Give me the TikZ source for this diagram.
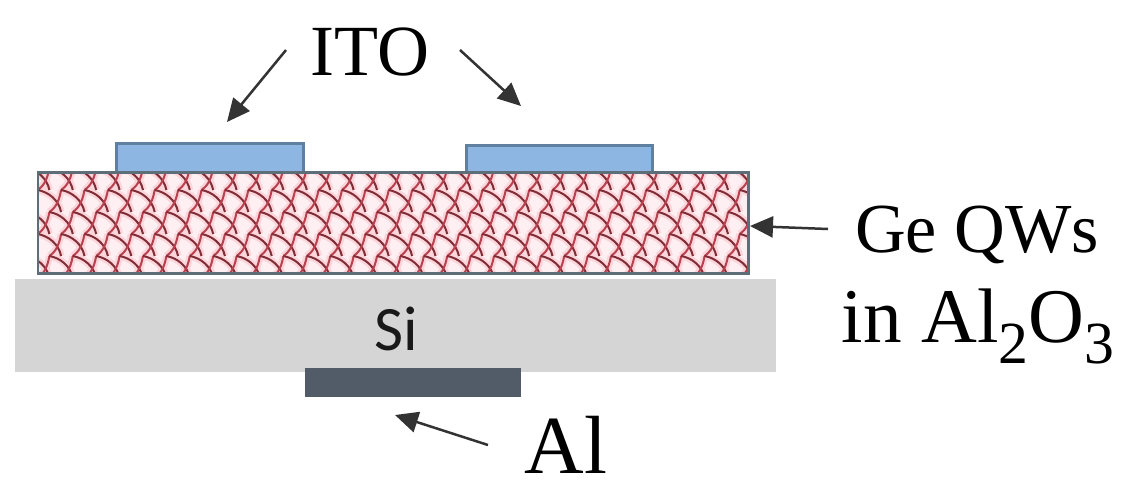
\documentclass[tikz,border=0pt]{standalone}
\usepackage{fontspec}
\setmainfont{Liberation Serif}
\newfontfamily\sifont{Carlito}
\usetikzlibrary{arrows.meta}
\definecolor{itoblue}{HTML}{8DB6E2}
\definecolor{itoedge}{HTML}{5F809F}
\definecolor{qwedge}{HTML}{5E6E78}
\definecolor{qwred}{HTML}{B8404F}
\definecolor{qwpink}{HTML}{FBD5DA}
\definecolor{sigray}{HTML}{D5D5D5}
\definecolor{algray}{HTML}{525C69}
\newcommand{\lowidx}[1]{\raisebox{-0.28em}{\fontsize{34}{34}\selectfont #1}}
\begin{document}
\begin{tikzpicture}[x=0.02cm,y=-0.02cm,
    itobox/.style={draw=itoedge, fill=itoblue, line width=0.06cm},
    callout/.style={-{Triangle[length=0.46cm,width=0.42cm]}, line width=0.05cm, black!80}]
\useasboundingbox (0,0) rectangle (1127,491);
\fill[white] (0,0) rectangle (1127,491);

\coordinate (SiA) at (15,279);
\coordinate (SiB) at (776,372);
\fill[sigray] (SiA) rectangle (SiB);
\node[font=\sifont\fontsize{36}{36}\selectfont, text=black!90] (silabel) at (396,329) {Si};
\fill[algray] (305,368) rectangle (521,397);

\draw[itobox] (116,172) rectangle (303,143);
\draw[itobox] (466,172) rectangle (652,145);

% scales of the QW layer
\begin{scope}
\clip (38,172) rectangle (748,273);
\fill[qwpink!35] (38,172) rectangle (748,273);
\foreach \r in {0,...,5}
  \foreach \c in {0,...,31} {
    \pgfmathsetmacro{\xa}{26+\c*23.4+mod(\r,2)*11.7}
    \pgfmathsetmacro{\ya}{168+\r*22}
    \draw[qwpink, line width=0.14cm] (\xa,\ya) .. controls (\xa+11,\ya+2) and (\xa+21,\ya+10) .. (\xa+23.4,\ya+22);
    \draw[qwpink, line width=0.14cm] (\xa+11.7,\ya+22) .. controls (\xa+16,\ya+19) and (\xa+21,\ya+14) .. (\xa+23.4,\ya);
  }
\foreach \r in {0,...,5}
  \foreach \c in {0,...,31} {
    \pgfmathsetmacro{\xa}{26+\c*23.4+mod(\r,2)*11.7}
    \pgfmathsetmacro{\ya}{168+\r*22}
    \draw[qwred!70!black, line width=0.04cm] (\xa,\ya) .. controls (\xa+11,\ya+2) and (\xa+21,\ya+10) .. (\xa+23.4,\ya+22);
    \draw[qwred, line width=0.04cm] (\xa+11.7,\ya+22) .. controls (\xa+16,\ya+19) and (\xa+21,\ya+14) .. (\xa+23.4,\ya);
  }
\end{scope}
\draw[draw=qwedge, line width=0.06cm] (38,172) rectangle (748,273);
\coordinate (qwtip) at (750,226);

\node[anchor=base, font=\fontsize{41}{41}\selectfont] (ito) at (370,75) {ITO};
\node[anchor=base, font=\fontsize{40}{40}\selectfont] (qwlabel) at (977,252) {Ge QWs};
\node[anchor=base, font=\fontsize{44}{44}\selectfont] (qwmat) at (978,342) {in Al\lowidx{2}O\lowidx{3}};
\node[anchor=base, font=\fontsize{47}{47}\selectfont] (allabel) at (566,473) {Al};

\coordinate (itotailA) at (286,50);
\coordinate (itotipA) at (227,122);
\coordinate (itotailB) at (460,50);
\coordinate (itotipB) at (521,106);
\coordinate (qwtail) at (828,229);
\coordinate (altail) at (488,445);
\coordinate (altip) at (395,415);

\draw[callout] (itotailA) -- (itotipA);
\draw[callout] (itotailB) -- (itotipB);
\draw[callout] (qwtail) -- (qwtip);
\draw[callout] (altail) -- (altip);
\end{tikzpicture}
\end{document}
